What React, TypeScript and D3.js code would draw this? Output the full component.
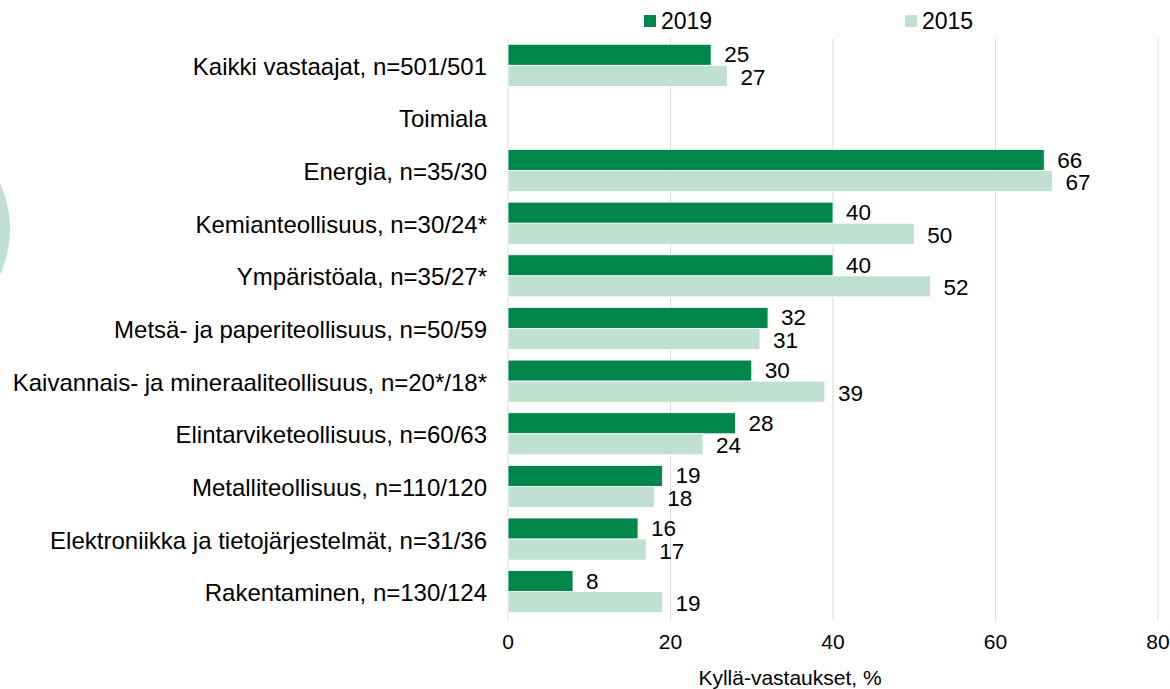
import React from 'react';
import * as d3 from 'd3';

const categories = [
  'Kaikki vastaajat, n=501/501',
  'Toimiala',
  'Energia, n=35/30',
  'Kemianteollisuus, n=30/24*',
  'Ympäristöala, n=35/27*',
  'Metsä- ja paperiteollisuus, n=50/59',
  'Kaivannais- ja mineraaliteollisuus, n=20*/18*',
  'Elintarviketeollisuus, n=60/63',
  'Metalliteollisuus, n=110/120',
  'Elektroniikka ja tietojärjestelmät, n=31/36',
  'Rakentaminen, n=130/124',
];
const values2019: (number | null)[] = [25, null, 66, 40, 40, 32, 30, 28, 19, 16, 8];
const values2015: (number | null)[] = [27, null, 67, 50, 52, 31, 39, 24, 18, 17, 19];
const xTicks = [0, 20, 40, 60, 80];
const seriesNames = ['2019', '2015'];
const colors = ['#00854a', '#c0e0d1'];

const W = 1170;
const H = 689;
const FONT = 'Arial, "Liberation Sans", sans-serif';

export default function App() {
  const x = d3.scaleLinear().domain([0, 80]).range([508, 1158]);
  const y = d3.scaleBand<number>().domain(d3.range(categories.length)).range([39, 618]).paddingInner(0.2).paddingOuter(0.1);
  const sub = d3.scaleBand<number>().domain([0, 1]).range([0, y.bandwidth()]);
  const series = [values2019, values2015];

  return (
    <svg width={W} height={H} style={{ position: 'absolute', left: 0, top: 0, background: '#fff' }} fontFamily={FONT}>
      <circle cx={-101} cy={229} r={111} fill="#c0e0d1" />
      {xTicks.map(t => (
        <line key={t} x1={x(t)} x2={x(t)} y1={39} y2={620} stroke="#d9d9d9" strokeWidth={1} />
      ))}
      {categories.map((c, i) => (
        <text key={c} x={487} y={y(i)! + y.bandwidth() / 2 + 1} textAnchor="end" dominantBaseline="central" fontSize={24} fill="#000">
          {c}
        </text>
      ))}
      {series.map((vals, s) =>
        vals.map((v, i) =>
          v == null ? null : (
            <g key={`${s}-${i}`}>
              <rect x={x(0)} y={y(i)! + sub(s)!} width={x(v) - x(0)} height={sub.bandwidth()} fill={colors[s]} stroke="#fff" strokeWidth={0.8} />
              <text x={x(v) + 13} y={y(i)! + sub(s)! + sub.bandwidth() / 2 + (s === 0 ? 0 : 1.5)} dominantBaseline="central" fontSize={22.5} fill="#000">
                {v}
              </text>
            </g>
          )
        )
      )}
      {xTicks.map(t => (
        <text key={t} x={x(t)} y={641} textAnchor="middle" dominantBaseline="central" fontSize={21} fill="#000">
          {t}
        </text>
      ))}
      <text x={790} y={677} textAnchor="middle" dominantBaseline="central" fontSize={21} fill="#000">
        Kyllä-vastaukset, %
      </text>
      {seriesNames.map((n, s) => {
        const lx = s === 0 ? 644 : 905;
        return (
          <g key={n}>
            <rect x={lx} y={15} width={12} height={12} fill={colors[s]} />
            <text x={lx + 17} y={21} dominantBaseline="central" fontSize={23} fill="#000">
              {n}
            </text>
          </g>
        );
      })}
    </svg>
  );
}
